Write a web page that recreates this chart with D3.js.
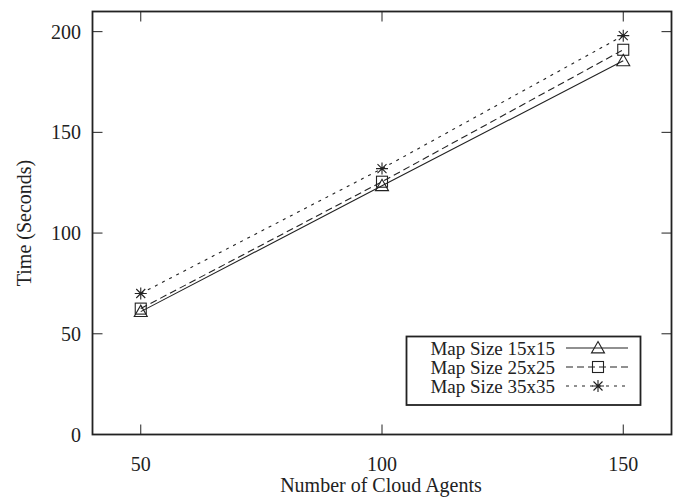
<!DOCTYPE html>
<html><head><meta charset="utf-8">
<script src="https://cdn.jsdelivr.net/npm/d3@7"></script>
<style>body{margin:0;background:#fff}svg{display:block}text{font-family:"Liberation Serif","Times New Roman",serif;fill:#222}</style>
</head><body><svg id="c" width="677" height="498"></svg>
<script>
const agents = [50, 100, 150];
const series = ["Map Size 15x15", "Map Size 25x25", "Map Size 35x35"];
const map15 = [61, 123.5, 185.5];
const map25 = [62.5, 125.5, 191];
const map35 = [70, 132, 198];
const xTicks = [50, 100, 150];
const yTicks = [0, 50, 100, 150, 200];

const data = [
  {name: series[0], values: map15, dash: null, marker: "tri"},
  {name: series[1], values: map25, dash: "7,4", marker: "sq"},
  {name: series[2], values: map35, dash: "3,5", marker: "star"}
];

const svg = d3.select("#c");
const L = 92.5, R = 671.5, T = 11.5, B = 434.5;
const x = d3.scaleLinear().domain([40, 160]).range([L, R]);
const y = d3.scaleLinear().domain([0, 210]).range([B, T]);
const ink = "#222";
const fs = 20;

// ticks (inward, mirrored)
const tl = 10;
xTicks.forEach(v => {
  svg.append("line").attr("x1", x(v)).attr("x2", x(v)).attr("y1", B).attr("y2", B - tl).attr("stroke", ink);
  svg.append("line").attr("x1", x(v)).attr("x2", x(v)).attr("y1", T).attr("y2", T + tl).attr("stroke", ink);
  svg.append("text").attr("x", x(v)).attr("y", 470.5).attr("text-anchor", "middle").attr("font-size", fs).text(v);
});
yTicks.forEach(v => {
  svg.append("line").attr("x1", L).attr("x2", L + tl).attr("y1", y(v)).attr("y2", y(v)).attr("stroke", ink);
  svg.append("line").attr("x1", R).attr("x2", R - tl).attr("y1", y(v)).attr("y2", y(v)).attr("stroke", ink);
  svg.append("text").attr("x", 81).attr("y", y(v) + 7).attr("text-anchor", "end").attr("font-size", fs).text(v);
});

svg.append("rect").attr("x", L).attr("y", T).attr("width", R - L).attr("height", B - T)
  .attr("fill", "none").attr("stroke", ink).attr("stroke-width", 1.8);

svg.append("text").attr("x", 381).attr("y", 492).attr("text-anchor", "middle").attr("font-size", fs).text("Number of Cloud Agents");
svg.append("text").attr("transform", "translate(31,223) rotate(-90)").attr("text-anchor", "middle").attr("font-size", fs).text("Time (Seconds)");

function marker(g, type, cx, cy) {
  if (type === "tri") {
    const s = 6.5;
    g.append("path").attr("d", `M${cx},${cy - s}L${cx + s},${cy + s * 0.75}L${cx - s},${cy + s * 0.75}Z`)
      .attr("fill", "none").attr("stroke", ink).attr("stroke-width", 1.1);
  } else if (type === "sq") {
    const s = 5.5;
    g.append("rect").attr("x", cx - s).attr("y", cy - s).attr("width", 2 * s).attr("height", 2 * s)
      .attr("fill", "none").attr("stroke", ink).attr("stroke-width", 1.1);
  } else {
    const s = 6;
    const d = s * 0.75;
    g.append("path").attr("d", `M${cx - s},${cy}L${cx + s},${cy}M${cx},${cy - s}L${cx},${cy + s}M${cx - d},${cy - d}L${cx + d},${cy + d}M${cx - d},${cy + d}L${cx + d},${cy - d}`)
      .attr("stroke", ink).attr("stroke-width", 1.1);
  }
}

const line = d3.line().x((d, i) => x(agents[i])).y(d => y(d));
data.forEach(s => {
  svg.append("path").attr("d", line(s.values)).attr("fill", "none").attr("stroke", ink)
    .attr("stroke-width", 1.1).attr("stroke-dasharray", s.dash);
  s.values.forEach((v, i) => marker(svg, s.marker, x(agents[i]), y(v)));
});

// legend
const lg = svg.append("g");
lg.append("rect").attr("x", 406.5).attr("y", 336.5).attr("width", 234).attr("height", 68.5)
  .attr("fill", "#fff").attr("stroke", ink).attr("stroke-width", 1.8);
data.forEach((s, i) => {
  const cy = 348 + i * 19;
  lg.append("text").attr("x", 555).attr("y", cy + 6.5).attr("text-anchor", "end").attr("font-size", 19).text(s.name);
  lg.append("line").attr("x1", 566).attr("x2", 628).attr("y1", cy).attr("y2", cy)
    .attr("stroke", ink).attr("stroke-width", 1.1).attr("stroke-dasharray", s.dash);
  marker(lg, s.marker, 598, cy);
});
</script></body></html>
